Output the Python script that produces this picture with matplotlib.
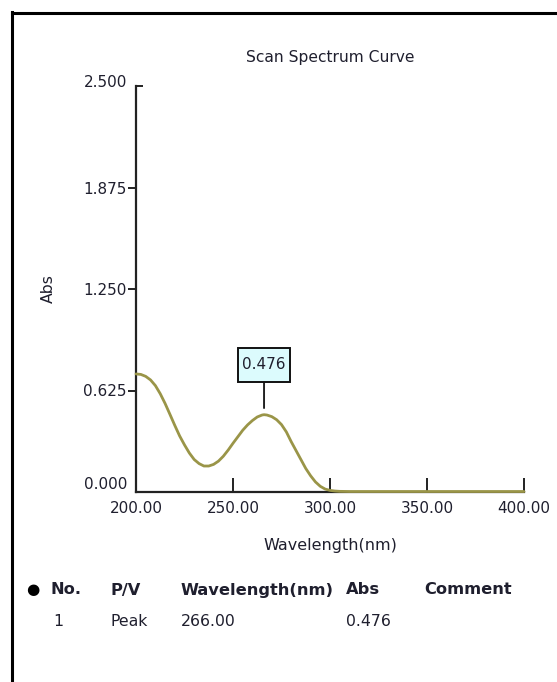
import matplotlib
matplotlib.use("Agg")
import matplotlib.pyplot as plt
from matplotlib.lines import Line2D
from matplotlib.path import Path
from matplotlib.transforms import ScaledTranslation

# Absorbance scan, 200-400 nm
wavelength = [200, 202.5, 205, 207.5, 210, 212.5, 215, 217.5, 220, 222.5,
              225, 227.5, 230, 232.5, 235, 237.5, 240, 242.5, 245, 247.5,
              250, 252.5, 255, 257.5, 260, 262.5, 265, 266, 267.5, 270,
              272.5, 275, 277.5, 280, 282.5, 285, 287.5, 290, 292.5, 295,
              297.5, 300, 302.5, 305, 310, 320, 340, 360, 380, 400]
absorbance = [0.727, 0.724, 0.712, 0.690, 0.655, 0.605, 0.545, 0.478, 0.410, 0.345,
              0.290, 0.240, 0.200, 0.175, 0.160, 0.160, 0.170, 0.190, 0.220, 0.258,
              0.300, 0.340, 0.380, 0.413, 0.440, 0.462, 0.474, 0.476, 0.474, 0.464,
              0.445, 0.415, 0.370, 0.310, 0.255, 0.200, 0.145, 0.100, 0.062, 0.035,
              0.018, 0.010, 0.006, 0.004, 0.003, 0.003, 0.003, 0.003, 0.003, 0.003]

y_ticks = [0.0, 0.625, 1.25, 1.875, 2.5]
x_ticks = [200, 250, 300, 350, 400]

peak_no = "1"
peak_type = "Peak"
peak_wavelength = 266.00
peak_abs = 0.476

table_headers = ["No.", "P/V", "Wavelength(nm)", "Abs", "Comment"]

W, H = 557, 682
fig = plt.figure(figsize=(W / 100, H / 100), dpi=100)
fig.patch.set_facecolor("white")
plt.rcParams["font.family"] = ["DejaVu Sans"]

text_color = "#1f1f2e"
curve_color = "#9a9548"
axis_color = "#222222"

# outer frame (left and top edges)
fig.add_artist(Line2D([12 / W, 12 / W], [0, 1 - 12 / H], transform=fig.transFigure,
                      color="black", lw=2.2))
fig.add_artist(Line2D([12 / W, 1], [1 - 12.5 / H, 1 - 12.5 / H], transform=fig.transFigure,
                      color="black", lw=2.2))

ax_l, ax_r, ax_t, ax_b = 136, 524, 86, 492
ax = fig.add_axes([ax_l / W, 1 - ax_b / H, (ax_r - ax_l) / W, (ax_b - ax_t) / H])
ax.set_xlim(200, 400)
ax.set_ylim(0, 2.5)
for s in ["top", "right"]:
    ax.spines[s].set_visible(False)
for s in ["left", "bottom"]:
    ax.spines[s].set_color(axis_color)
    ax.spines[s].set_linewidth(1.6)

ax.plot(wavelength, absorbance, color=curve_color, lw=2.0, clip_on=False, zorder=5,
        solid_capstyle="round", solid_joinstyle="round")

# y ticks: outward, except the top one which points inward
ax.set_yticks(y_ticks)
ax.set_yticklabels([f"{v:.3f}" for v in y_ticks])
ax.tick_params(axis="y", direction="out", length=6, width=1.4, color=axis_color,
               labelsize=11, labelcolor=text_color, pad=0.5)
ytl = ax.yaxis.get_major_ticks()
ytl[0].tick1line.set_visible(False)
ytl[-1].tick1line.set_visible(False)
ax.plot([200, 203.5], [2.5, 2.5], color=axis_color, lw=1.4, clip_on=False,
        solid_capstyle="butt")

# keep the end labels off the corners
ylabels = ax.get_yticklabels()
ylabels[0].set_transform(ylabels[0].get_transform() +
                         ScaledTranslation(0, 9 / 100, fig.dpi_scale_trans))
ylabels[-1].set_transform(ylabels[-1].get_transform() +
                          ScaledTranslation(0, 5 / 100, fig.dpi_scale_trans))

# x ticks: inward
ax.set_xticks(x_ticks)
ax.set_xticklabels([f"{v:.2f}" for v in x_ticks])
ax.tick_params(axis="x", direction="in", length=10, width=1.4, color=axis_color,
               labelsize=11, labelcolor=text_color, pad=6.5)
ax.xaxis.get_major_ticks()[0].tick1line.set_visible(False)

ax.set_xlabel("Wavelength(nm)", fontsize=11.5, color=text_color, labelpad=16)
ax.set_ylabel("Abs", fontsize=11.3, color=text_color)
ax.yaxis.set_label_coords(-(ax_l - 56) / (ax_r - ax_l), 0.5)
ax.set_title("Scan Spectrum Curve", fontsize=11.2, color=text_color, pad=17.5)


def value_box(x0, y0, width, height, mutation_size):
    px, py = 4.0, 9.5
    x1, y1 = x0 - px, y0 - py
    x2, y2 = x0 + width + px, y0 + height + py
    return Path([(x1, y1), (x2, y1), (x2, y2), (x1, y2), (x1, y1)],
                [Path.MOVETO, Path.LINETO, Path.LINETO, Path.LINETO, Path.CLOSEPOLY])


# peak marker with value box
ax.annotate(f"{peak_abs:.3f}", xy=(peak_wavelength, peak_abs),
            xytext=(0, 50), textcoords="offset pixels",
            ha="center", va="center", fontsize=11, color=text_color,
            bbox=dict(boxstyle=value_box, fc="#dcfbfd", ec="#111111", lw=1.4),
            arrowprops=dict(arrowstyle="-", color=axis_color, lw=1.4,
                            shrinkA=0, shrinkB=4.8))

# peak table
col_x = [50, 110, 181, 346, 424]
hdr_y, row_y = 590, 622
fig.text(33 / W, 1 - hdr_y / H, "\u25cf", fontsize=11, color="black",
         ha="center", va="center")
for x, h in zip(col_x, table_headers):
    fig.text(x / W, 1 - hdr_y / H, h, fontsize=11.7, fontweight="bold",
             color=text_color, ha="left", va="center")
row = [peak_no, peak_type, f"{peak_wavelength:.2f}", f"{peak_abs:.3f}"]
row_x = [53, 110, 181, 346]
for x, t in zip(row_x, row):
    fig.text(x / W, 1 - row_y / H, t, fontsize=11.3, color=text_color,
             ha="left", va="center")

fig.savefig("out.png", dpi=100, facecolor="white")
